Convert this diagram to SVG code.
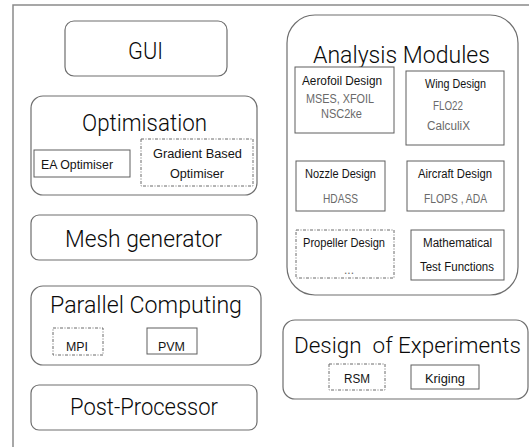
<svg xmlns="http://www.w3.org/2000/svg" width="529" height="447" viewBox="0 0 529 447">
<style>
.frame{fill:none;stroke:#8a8a8a;stroke-width:1.5}
.big{fill:#fff;stroke:#6e6e6e;stroke-width:1.2}
.box{fill:#fff;stroke:#5e5e5e;stroke-width:1}
.dash{fill:#fff;stroke:#6a6a6a;stroke-width:1;stroke-dasharray:3 1.5 1 1.5}
text{font-family:"Liberation Sans",Arial,sans-serif;fill:#141414}
.t{font-family:Roboto,"Liberation Sans",Arial,sans-serif;font-weight:300;font-size:23.5px;fill:#0a0a0a}
.s{font-size:12px}
.g{font-size:12px;fill:#6a6a6a}
</style>
<rect width="529" height="447" fill="#fff"/>
<path class="frame" d="M13,447 V5 H529"/>
<g id="connectors"/>
<g id="gui">
<rect class="big" x="65" y="21" width="162" height="55" rx="9"/>
<text class="t" x="128" y="59" textLength="35" lengthAdjust="spacingAndGlyphs">GUI</text>
</g>
<g id="optimisation">
<rect class="big" x="31" y="96" width="226" height="99" rx="12"/>
<text class="t" x="82" y="131" textLength="125" lengthAdjust="spacingAndGlyphs">Optimisation</text>
<g id="ea-optimiser">
<rect class="box" x="34" y="150" width="96" height="27"/>
<text class="s" x="41" y="169" textLength="72" lengthAdjust="spacingAndGlyphs">EA Optimiser</text>
</g>
<g id="gradient-optimiser">
<rect class="dash" x="141" y="139" width="112" height="47"/>
<text class="s" x="153" y="158" textLength="89" lengthAdjust="spacingAndGlyphs">Gradient Based</text>
<text class="s" x="170" y="178" textLength="54" lengthAdjust="spacingAndGlyphs">Optimiser</text>
</g>
</g>
<g id="mesh-generator">
<rect class="big" x="31" y="215" width="226" height="45" rx="8"/>
<text class="t" x="65" y="247" textLength="157" lengthAdjust="spacingAndGlyphs">Mesh generator</text>
</g>
<g id="parallel-computing">
<rect class="big" x="31" y="286" width="230" height="79" rx="12"/>
<text class="t" x="50" y="313" textLength="192" lengthAdjust="spacingAndGlyphs">Parallel Computing</text>
<g id="mpi">
<rect class="dash" x="53" y="328" width="50" height="27"/>
<text class="s" x="66" y="351" textLength="22" lengthAdjust="spacingAndGlyphs">MPI</text>
</g>
<g id="pvm">
<rect class="box" x="147" y="328" width="50" height="26"/>
<text class="s" x="158" y="351" textLength="27" lengthAdjust="spacingAndGlyphs">PVM</text>
</g>
</g>
<g id="post-processor">
<rect class="big" x="31" y="385" width="226" height="45" rx="8"/>
<text class="t" x="70" y="415" textLength="148" lengthAdjust="spacingAndGlyphs">Post-Processor</text>
</g>
<g id="analysis-modules">
<rect class="big" x="287" y="15" width="231" height="280" rx="28"/>
<text class="t" x="313" y="63" textLength="177" lengthAdjust="spacingAndGlyphs">Analysis Modules</text>
<g id="aerofoil">
<rect class="box" x="295" y="67" width="99" height="66"/>
<text class="s" x="302" y="85" textLength="80" lengthAdjust="spacingAndGlyphs">Aerofoil Design</text>
<text class="g" x="306" y="103" textLength="68" lengthAdjust="spacingAndGlyphs">MSES, XFOIL</text>
<text class="g" x="321" y="118" textLength="41" lengthAdjust="spacingAndGlyphs">NSC2ke</text>
</g>
<g id="wing">
<rect class="box" x="406" y="71" width="98" height="74"/>
<text class="s" x="425" y="88" textLength="61" lengthAdjust="spacingAndGlyphs">Wing Design</text>
<text class="g" x="433" y="110" textLength="30" lengthAdjust="spacingAndGlyphs">FLO22</text>
<text class="g" x="427" y="130" textLength="43" lengthAdjust="spacingAndGlyphs">CalculiX</text>
</g>
<g id="nozzle">
<rect class="box" x="296" y="161" width="89" height="50"/>
<text class="s" x="305" y="178" textLength="71" lengthAdjust="spacingAndGlyphs">Nozzle Design</text>
<text class="g" x="323" y="203" textLength="35" lengthAdjust="spacingAndGlyphs">HDASS</text>
</g>
<g id="aircraft">
<rect class="box" x="407" y="161" width="97" height="50"/>
<text class="s" x="418" y="178" textLength="74" lengthAdjust="spacingAndGlyphs">Aircraft Design</text>
<text class="g" x="424" y="203" textLength="63" lengthAdjust="spacingAndGlyphs">FLOPS , ADA</text>
</g>
<g id="propeller">
<rect class="dash" x="296" y="230" width="98" height="48"/>
<text class="s" x="303" y="247" textLength="82" lengthAdjust="spacingAndGlyphs">Propeller Design</text>
<text class="g" x="344" y="274" font-size="8">...</text>
</g>
<g id="math-test">
<rect class="box" x="411" y="230" width="93" height="50"/>
<text class="s" x="423" y="247" textLength="69" lengthAdjust="spacingAndGlyphs">Mathematical</text>
<text class="s" x="420" y="271" textLength="74" lengthAdjust="spacingAndGlyphs">Test Functions</text>
</g>
</g>
<g id="design-of-experiments">
<rect class="big" x="283" y="320" width="245" height="79" rx="12"/>
<text class="t" x="294" y="353" style="font-size:22px" textLength="227" lengthAdjust="spacingAndGlyphs" xml:space="preserve">Design  of Experiments</text>
<g id="rsm">
<rect class="dash" x="329" y="364" width="56" height="26"/>
<text class="s" x="344" y="383" textLength="26" lengthAdjust="spacingAndGlyphs">RSM</text>
</g>
<g id="kriging">
<rect class="box" x="411" y="365" width="68" height="24"/>
<text class="s" x="425" y="383" textLength="40" lengthAdjust="spacingAndGlyphs">Kriging</text>
</g>
</g>
</svg>
